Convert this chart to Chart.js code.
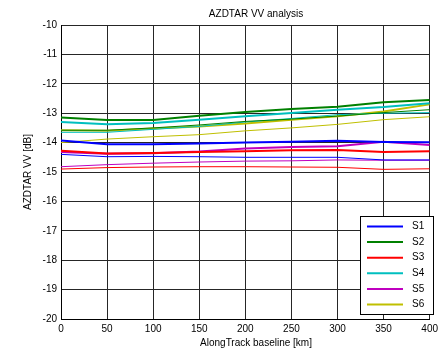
<!DOCTYPE html>
<html lang="en">
<head>
<meta charset="UTF-8">
<title>AZDTAR VV analysis</title>
<script src="https://cdn.jsdelivr.net/npm/chart.js"></script>
<style>
  body { margin: 0; background: #fff; }
  #wrap { width: 442px; height: 349px; }
</style>
</head>
<body>
<div id="wrap"><canvas id="grafico" width="442" height="349"></canvas></div>
<script>
// along track baseline [km]
const baseline = [0, 50, 100, 150, 200, 250, 300, 350, 400];
const yTicks = [-20, -19, -18, -17, -16, -15, -14, -13, -12, -11, -10];

const seriesNames = ['S1', 'S2', 'S3', 'S4', 'S5', 'S6'];
const seriesColors = ['#0000ff', '#008000', '#ff0000', '#00bfbf', '#bf00bf', '#bfbf00'];

// upper / lower curve for every series [dB]
const s1Upper = [-13.93, -14.06, -14.06, -14.03, -14.00, -13.97, -13.94, -13.98, -13.99];
const s1Lower = [-14.40, -14.48, -14.47, -14.48, -14.50, -14.50, -14.50, -14.59, -14.59];
const s2Upper = [-13.15, -13.23, -13.23, -13.09, -12.96, -12.86, -12.78, -12.63, -12.55];
const s2Lower = [-13.58, -13.58, -13.50, -13.40, -13.28, -13.20, -13.10, -12.98, -12.88];
const s3Upper = [-14.28, -14.37, -14.35, -14.32, -14.29, -14.26, -14.25, -14.32, -14.29];
const s3Lower = [-14.90, -14.85, -14.83, -14.82, -14.82, -14.83, -14.84, -14.91, -14.89];
const s4Upper = [-13.30, -13.38, -13.33, -13.22, -13.10, -12.99, -12.88, -12.79, -12.66];
const s4Lower = [-13.65, -13.65, -13.55, -13.45, -13.30, -13.18, -13.05, -13.00, -12.98];
const s5Upper = [-14.32, -14.38, -14.36, -14.30, -14.20, -14.15, -14.12, -13.97, -14.08];
const s5Lower = [-14.82, -14.75, -14.70, -14.66, -14.63, -14.62, -14.59, -14.60, -14.60];
const s6Upper = [-13.58, -13.60, -13.52, -13.45, -13.35, -13.22, -13.10, -12.94, -12.70];
const s6Lower = [-14.00, -13.88, -13.80, -13.73, -13.60, -13.50, -13.38, -13.22, -13.12];

const upperCurves = [s1Upper, s2Upper, s3Upper, s4Upper, s5Upper, s6Upper];
const lowerCurves = [s1Lower, s2Lower, s3Lower, s4Lower, s5Lower, s6Lower];

function pontos(valores) {
    return baseline.map((x, i) => ({ x: x, y: valores[i] }));
}

const datasets = [];
seriesNames.forEach((nome, i) => {
    datasets.push({ label: nome, data: pontos(upperCurves[i]), borderColor: seriesColors[i], borderWidth: 2, pointRadius: 0, tension: 0 });
    datasets.push({ label: nome + ' low', data: pontos(lowerCurves[i]), borderColor: seriesColors[i], borderWidth: 1, pointRadius: 0, tension: 0 });
});

// title, axis labels and the boxed legend inside the plot
const textos = {
    id: 'textos',
    afterDraw(chart) {
        const ctx = chart.ctx;
        ctx.save();
        ctx.fillStyle = '#000';
        ctx.font = '10px "Liberation Sans", Arial, sans-serif';
        ctx.textAlign = 'center';
        ctx.textBaseline = 'middle';
        ctx.fillText('AZDTAR VV analysis', 256, 14);
        ctx.fillText('AlongTrack baseline [km]', 256, 343);
        ctx.translate(28, 172);
        ctx.rotate(-Math.PI / 2);
        ctx.fillText('AZDTAR VV [dB]', 0, 0);
        ctx.restore();

        // legend
        ctx.save();
        ctx.fillStyle = '#fff';
        ctx.fillRect(360, 216, 73, 98);
        ctx.strokeStyle = '#000';
        ctx.lineWidth = 1;
        ctx.strokeRect(360.5, 216.5, 73, 98);
        ctx.font = '10px "Liberation Sans", Arial, sans-serif';
        ctx.textAlign = 'left';
        ctx.textBaseline = 'middle';
        seriesNames.forEach((nome, i) => {
            const y = 226.5 + i * 15.6;
            ctx.strokeStyle = seriesColors[i];
            ctx.lineWidth = 2;
            ctx.beginPath();
            ctx.moveTo(367, y);
            ctx.lineTo(403, y);
            ctx.stroke();
            ctx.fillStyle = '#000';
            ctx.fillText(nome, 412, y);
        });
        ctx.restore();
    }
};

new Chart(document.getElementById('grafico').getContext('2d'), {
    type: 'line',
    data: { datasets: datasets },
    options: {
        responsive: false,
        animation: false,
        layout: { padding: { left: 0, right: 9, top: 25, bottom: 0 } },
        plugins: {
            legend: { display: false },
            title: { display: false },
            tooltip: { enabled: false }
        },
        scales: {
            x: {
                type: 'linear',
                min: 0,
                max: 400,
                afterFit: s => { s.height = 30; },
                afterBuildTicks: s => { s.ticks = baseline.map(v => ({ value: v })); },
                ticks: { color: '#000', padding: 4, maxRotation: 0, font: { size: 10, family: '"Liberation Sans", Arial, sans-serif' } },
                grid: { color: '#262626', lineWidth: 1, drawTicks: false },
                border: { color: '#000', width: 1 }
            },
            y: {
                min: -20,
                max: -10,
                afterFit: s => { s.width = 61; },
                afterBuildTicks: s => { s.ticks = yTicks.map(v => ({ value: v })); },
                ticks: { color: '#000', padding: 4, font: { size: 10, family: '"Liberation Sans", Arial, sans-serif' } },
                grid: { color: '#262626', lineWidth: 1, drawTicks: false },
                border: { color: '#000', width: 1 }
            }
        }
    },
    plugins: [textos]
});
</script>
</body>
</html>
